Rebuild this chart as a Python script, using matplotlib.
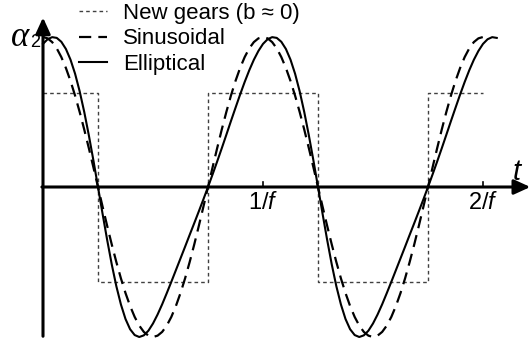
import numpy as np
import matplotlib
matplotlib.use("Agg")
import matplotlib.pyplot as plt
from matplotlib.lines import Line2D

plt.rcParams['font.family'] = ['Liberation Sans', 'DejaVu Sans']
plt.rcParams['mathtext.fontset'] = 'custom'
plt.rcParams['mathtext.rm'] = 'Liberation Sans'
plt.rcParams['mathtext.it'] = 'Liberation Sans:italic'

# time in units of the period 1/f, sampled every 1/48 period
t_sin = np.arange(97) / 48
sinusoidal = [1.0, 0.991, 0.966, 0.924, 0.866, 0.793, 0.707, 0.609, 0.5, 0.383, 0.259, 0.131, 0.0,
              -0.131, -0.259, -0.383, -0.5, -0.609, -0.707, -0.793, -0.866, -0.924, -0.966, -0.991,
              -1.0, -0.991, -0.966, -0.924, -0.866, -0.793, -0.707, -0.609, -0.5, -0.383, -0.259, -0.131,
              0.0, 0.131, 0.259, 0.383, 0.5, 0.609, 0.707, 0.793, 0.866, 0.924, 0.966, 0.991,
              1.0, 0.991, 0.966, 0.924, 0.866, 0.793, 0.707, 0.609, 0.5, 0.383, 0.259, 0.131, 0.0,
              -0.131, -0.259, -0.383, -0.5, -0.609, -0.707, -0.793, -0.866, -0.924, -0.966, -0.991,
              -1.0, -0.991, -0.966, -0.924, -0.866, -0.793, -0.707, -0.609, -0.5, -0.383, -0.259, -0.131,
              0.0, 0.131, 0.259, 0.383, 0.5, 0.609, 0.707, 0.793, 0.866, 0.924, 0.966, 0.991,
              1.0]

t_ell = np.arange(100) / 48
elliptical = [0.954, 0.985, 0.999, 0.994, 0.968, 0.920, 0.849, 0.755, 0.638, 0.500, 0.345, 0.177, 0.0,
              -0.179, -0.353, -0.516, -0.661, -0.783, -0.880, -0.948, -0.987, -1.000, -0.989, -0.958,
              -0.910, -0.850, -0.782, -0.708, -0.632, -0.554, -0.476, -0.398, -0.319, -0.241, -0.162, -0.082,
              0.0, 0.084, 0.170, 0.258, 0.348, 0.439, 0.528, 0.616, 0.700, 0.778, 0.848, 0.907,
              0.954, 0.985, 0.999, 0.994, 0.968, 0.920, 0.849, 0.755, 0.638, 0.500, 0.345, 0.177, 0.0,
              -0.179, -0.353, -0.516, -0.661, -0.783, -0.880, -0.948, -0.987, -1.000, -0.989, -0.958,
              -0.910, -0.850, -0.782, -0.708, -0.632, -0.554, -0.476, -0.398, -0.319, -0.241, -0.162, -0.082,
              0.0, 0.084, 0.170, 0.258, 0.348, 0.439, 0.528, 0.616, 0.700, 0.778, 0.848, 0.907,
              0.954, 0.985, 0.999, 0.994]

# square wave of the new gears (b ~ 0): switching times and levels
t_sq = [0.0, 0.25, 0.75, 1.25, 1.75, 2.0]
new_gears = [0.63, -0.63, 0.63, -0.63, 0.63, 0.63]

tick_pos = [1, 2]
tick_labels = [r'1/$f$', r'2/$f$']
legend_labels = ['New gears (b \u2248 0)', 'Sinusoidal', 'Elliptical']

fig = plt.figure(figsize=(5.32, 3.41), dpi=100)
ax = fig.add_axes([0, 0, 1, 1])
ax.set_xlim(-43 / 220, 489 / 220)
ax.set_ylim(-154 / 150, 187 / 150)
ax.axis('off')

sq_style = dict(color='#404040', lw=1.0, dashes=(2.6, 2.2))
sin_style = dict(color='black', lw=1.6, dashes=(5.5, 3.2))
ell_style = dict(color='black', lw=1.5)

ax.plot(t_sq, new_gears, drawstyle='steps-post', **sq_style)
ax.plot(t_sin, sinusoidal, **sin_style)
ax.plot(t_ell, elliptical, **ell_style)

# axes with arrow heads
arrow = dict(arrowstyle='-|>,head_length=0.7,head_width=0.32', lw=2.2, color='black',
             mutation_scale=14, shrinkA=0, shrinkB=0)
ax.annotate('', xy=(0, 1.13), xytext=(0, -0.995), arrowprops=arrow)
ax.annotate('', xy=(2.215, 0), xytext=(-0.005, 0), arrowprops=arrow)

for p, lab in zip(tick_pos, tick_labels):
    ax.plot([p, p], [0, 0.035], color='black', lw=1.2)
    ax.text(p, -0.105, lab, ha='center', va='center', fontsize=17)

ax.text(2.157, 0.10, r'$t$', ha='center', va='center', fontsize=21)
ax.text(-23 / 220, 0.995, '\u03b1', ha='center', va='center', fontsize=25,
        family='Liberation Serif', style='italic')
ax.text(-7.5 / 220, 0.965, '2', ha='center', va='center', fontsize=13)

handles = [Line2D([], [], **sq_style), Line2D([], [], **sin_style), Line2D([], [], **ell_style)]
ax.legend(handles, legend_labels, loc='upper left', bbox_to_anchor=(79 / 532, 1 - 3 / 341),
          frameon=False, fontsize=16, borderpad=0, borderaxespad=0, handlelength=1.26,
          handletextpad=0.72, labelspacing=0.2)

fig.savefig('out.png', dpi=100)
